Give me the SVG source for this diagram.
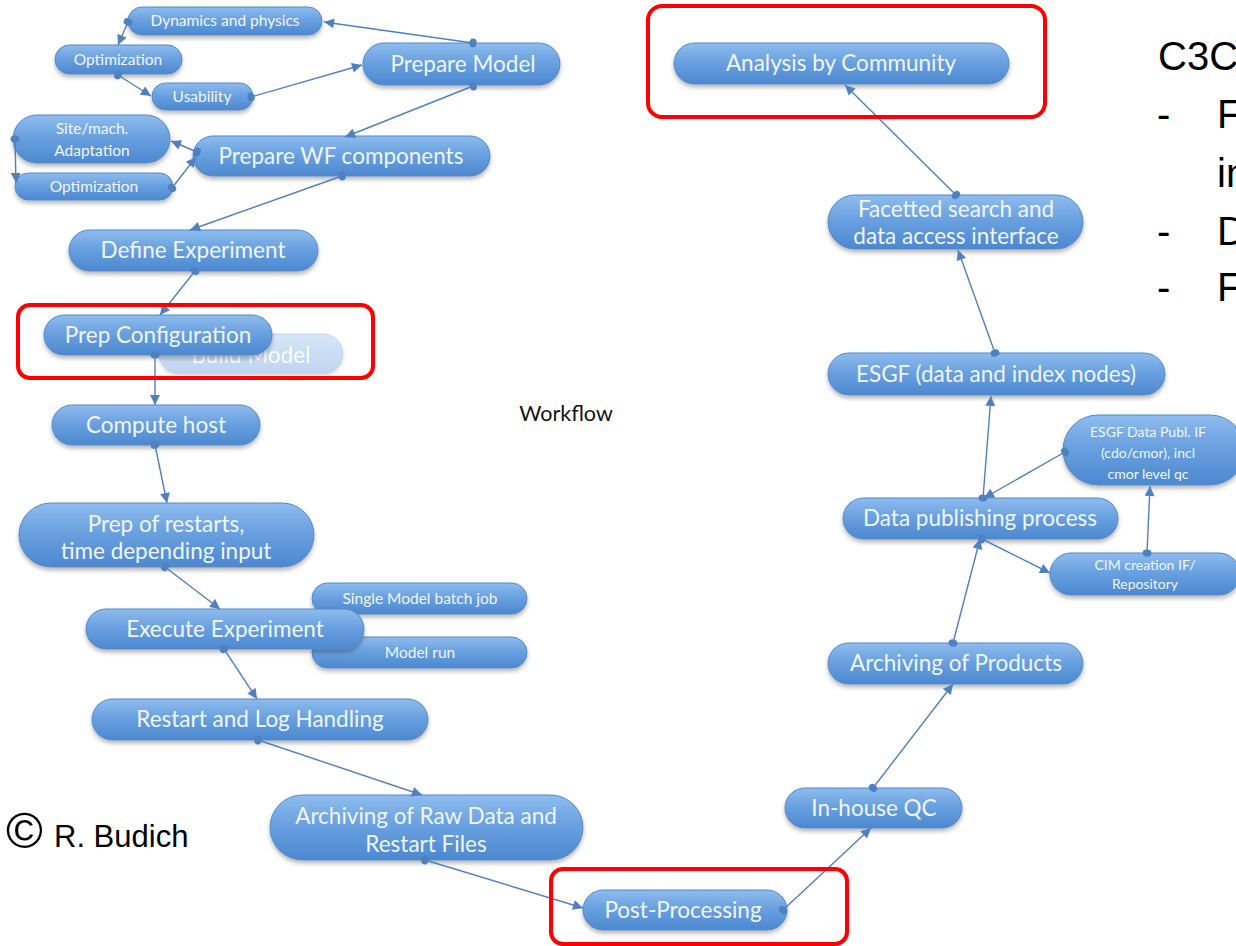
<svg xmlns="http://www.w3.org/2000/svg" width="1236" height="946" viewBox="0 0 1236 946">
<defs>
<linearGradient id="pill" x1="0" y1="0" x2="0" y2="1">
<stop offset="0" stop-color="#8ebcee"/>
<stop offset="0.45" stop-color="#6aa1e0"/>
<stop offset="1" stop-color="#4c88d0"/>
</linearGradient>
<filter id="sh" x="-10%" y="-20%" width="120%" height="160%">
<feDropShadow dx="0" dy="3" stdDeviation="2" flood-color="#000" flood-opacity="0.28"/>
</filter>
<marker id="arr" viewBox="0 0 10 10" refX="10" refY="5" markerWidth="11" markerHeight="10" markerUnits="userSpaceOnUse" orient="auto">
<path d="M0,0 L10,5 L0,10 z" fill="#4f80c0"/>
</marker>
<marker id="dot" viewBox="0 0 10 10" refX="5" refY="5" markerWidth="9" markerHeight="10" markerUnits="userSpaceOnUse" orient="auto">
<ellipse cx="5" cy="5" rx="4" ry="5" fill="#4f80c0"/>
</marker>
</defs>
<style>
.p{fill:url(#pill);stroke:#5489c8;stroke-width:1;filter:url(#sh)}
.t{font-family:Lato,'Open Sans','DejaVu Sans',sans-serif;fill:#f1f6fc;text-anchor:middle}
.l{font-size:22.5px}
.s{font-size:15.5px}
.x{font-size:14px}
.c{fill:none;stroke:#4f80c0;stroke-width:1.4;marker-start:url(#dot);marker-end:url(#arr)}
.red{fill:none;stroke:#ff0000;stroke-width:4}
.blk{font-family:'Liberation Sans',Arial,sans-serif;fill:#000}
.big{font-size:40px}
</style>
<rect width="1236" height="946" fill="#ffffff"/>

<g id="n-dynamics"><rect class="p" x="128" y="7" width="194" height="28" rx="14"/><text class="t s" x="225" y="26">Dynamics and physics</text></g>
<g id="n-optimization1"><rect class="p" x="55" y="45" width="127" height="29" rx="14.5"/><text class="t s" x="118" y="65">Optimization</text></g>
<g id="n-usability"><rect class="p" x="152" y="83" width="101" height="27" rx="13.5"/><text class="t s" x="202" y="102">Usability</text></g>
<g id="n-prepare-model"><rect class="p" x="363" y="43" width="197" height="42" rx="21"/><text class="t l" x="463" y="72">Prepare Model</text></g>
<g id="n-site"><rect class="p" x="13" y="115" width="157" height="48" rx="24"/><text class="t s" x="92" y="134">Site/mach.</text><text class="t s" x="92" y="156">Adaptation</text></g>
<g id="n-optimization2"><rect class="p" x="15" y="173" width="158" height="27" rx="13.5"/><text class="t s" x="94" y="192">Optimization</text></g>
<g id="n-prepare-wf"><rect class="p" x="193" y="136" width="297" height="40" rx="20"/><text class="t l" x="341" y="164">Prepare WF components</text></g>
<g id="n-define"><rect class="p" x="69" y="230" width="249" height="41" rx="20.5"/><text class="t l" x="193" y="258">Define Experiment</text></g>
<g id="n-build" opacity="0.35"><rect class="p" x="159" y="334" width="184" height="40" rx="20"/><text class="t l" x="251" y="363">Build Model</text></g>
<g id="n-prep-config"><rect class="p" x="44" y="315" width="228" height="40" rx="20"/><text class="t l" x="158" y="343">Prep Configuration</text></g>
<g id="n-compute"><rect class="p" x="52" y="405" width="208" height="40" rx="20"/><text class="t l" x="156" y="433">Compute host</text></g>
<g id="n-prep-restarts"><rect class="p" x="19" y="503" width="295" height="64" rx="32"/><text class="t l" x="166" y="532">Prep of restarts,</text><text class="t l" x="166" y="559">time depending input</text></g>
<g id="n-single"><rect class="p" x="312" y="583" width="215" height="31" rx="15.5"/><text class="t s" x="420" y="604">Single Model batch job</text></g>
<g id="n-modelrun"><rect class="p" x="312" y="637" width="215" height="31" rx="15.5"/><text class="t s" x="420" y="658">Model run</text></g>
<g id="n-execute"><rect class="p" x="86" y="609" width="278" height="40" rx="20"/><text class="t l" x="225" y="637">Execute Experiment</text></g>
<g id="n-restart"><rect class="p" x="92" y="699" width="336" height="41" rx="20.5"/><text class="t l" x="260" y="727">Restart and Log Handling</text></g>
<g id="n-arch-raw"><rect class="p" x="270" y="795" width="313" height="65" rx="32.5"/><text class="t l" x="426" y="824">Archiving of Raw Data and</text><text class="t l" x="426" y="852">Restart Files</text></g>
<g id="n-post"><rect class="p" x="583" y="890" width="204" height="40" rx="20"/><text class="t l" x="683" y="918">Post-Processing</text></g>
<g id="n-inhouse"><rect class="p" x="785" y="788" width="177" height="40" rx="20"/><text class="t l" x="874" y="816">In-house QC</text></g>
<g id="n-arch-prod"><rect class="p" x="828" y="643" width="255" height="41" rx="20.5"/><text class="t l" x="956" y="671">Archiving of Products</text></g>
<g id="n-datapub"><rect class="p" x="843" y="498" width="275" height="41" rx="20.5"/><text class="t l" x="980" y="526">Data publishing process</text></g>
<g id="n-cim"><rect class="p" x="1050" y="553" width="190" height="42" rx="21"/><text class="t x" x="1145" y="570">CIM creation IF/</text><text class="t x" x="1145" y="589">Repository</text></g>
<g id="n-esgf-publ"><rect class="p" x="1063" y="415" width="182" height="70" rx="35"/><text class="t x" x="1148" y="437">ESGF Data Publ. IF</text><text class="t x" x="1148" y="458">(cdo/cmor), incl</text><text class="t x" x="1148" y="479">cmor level qc</text></g>
<g id="n-esgf"><rect class="p" x="828" y="353" width="337" height="42" rx="21"/><text class="t l" x="996" y="382">ESGF (data and index nodes)</text></g>
<g id="n-facet"><rect class="p" x="828" y="195" width="255" height="54" rx="27"/><text class="t l" x="956" y="217">Facetted search and</text><text class="t l" x="956" y="244">data access interface</text></g>
<g id="n-analysis"><rect class="p" x="674" y="43" width="335" height="41" rx="20.5"/><text class="t l" x="841" y="71">Analysis by Community</text></g>

<g id="connectors">
<line class="c" x1="473" y1="43" x2="324" y2="22"/>
<line class="c" x1="128" y1="22" x2="118" y2="45"/>
<line class="c" x1="118" y1="75" x2="151" y2="96"/>
<line class="c" x1="251" y1="97" x2="362" y2="65"/>
<line class="c" x1="473" y1="86" x2="345" y2="137"/>
<line class="c" x1="197" y1="152" x2="171" y2="141"/>
<line class="c" x1="172" y1="188" x2="196" y2="157"/>
<line class="c" x1="15" y1="139" x2="16" y2="183"/>
<line class="c" x1="342" y1="176" x2="190" y2="230"/>
<line class="c" x1="195" y1="271" x2="160" y2="315"/>
<line class="c" x1="155" y1="355" x2="155" y2="405"/>
<line class="c" x1="155" y1="445" x2="167" y2="503"/>
<line class="c" x1="165" y1="567" x2="220" y2="609"/>
<line class="c" x1="224" y1="649" x2="257" y2="699"/>
<line class="c" x1="258" y1="740" x2="422" y2="795"/>
<line class="c" x1="425" y1="860" x2="583" y2="908"/>
<line class="c" x1="783" y1="910" x2="871" y2="828"/>
<line class="c" x1="873" y1="788" x2="953" y2="684"/>
<line class="c" x1="953" y1="643" x2="980" y2="539"/>
<line class="c" x1="982" y1="539" x2="1050" y2="573"/>
<line class="c" x1="1147" y1="553" x2="1150" y2="486"/>
<line class="c" x1="1065" y1="452" x2="984" y2="498"/>
<line class="c" x1="983" y1="498" x2="991" y2="396"/>
<line class="c" x1="995" y1="353" x2="958" y2="250"/>
<line class="c" x1="956" y1="195" x2="845" y2="85"/>
</g>

<g id="highlights">
<rect class="red" x="18" y="305" width="355" height="73" rx="12"/>
<rect class="red" x="648" y="6" width="397" height="111" rx="14"/>
<rect class="red" x="551" y="869" width="296" height="75" rx="12"/>
</g>

<g id="labels">
<text x="566" y="421" font-family="Lato,'Open Sans',sans-serif" font-size="21.5" fill="#111" text-anchor="middle">Workflow</text>
<text class="blk" x="6" y="848" font-size="50">©</text>
<text class="blk" x="54" y="847" font-size="31">R. Budich</text>
<text class="blk big" x="1158" y="70">C3C</text>
<text class="blk big" x="1157" y="128">-</text>
<text class="blk big" x="1217" y="128">F</text>
<text class="blk big" x="1217" y="187">in</text>
<text class="blk big" x="1157" y="245">-</text>
<text class="blk big" x="1217" y="245">D</text>
<text class="blk big" x="1157" y="301">-</text>
<text class="blk big" x="1217" y="301">F</text>
</g>
</svg>
